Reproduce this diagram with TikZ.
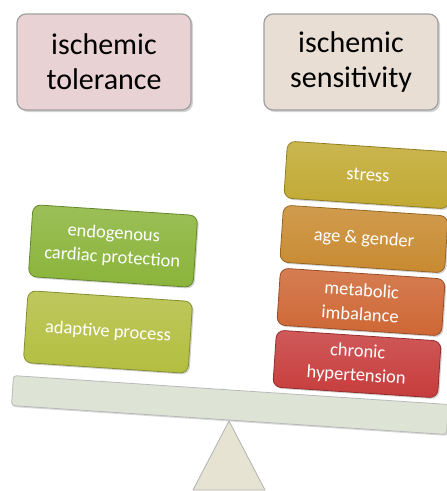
\documentclass[tikz,border=0pt]{standalone}
\usepackage{fontspec}
\setmainfont{Carlito}
\usetikzlibrary{shadows, positioning}

\definecolor{tolcol}{HTML}{E9D2D4}
\definecolor{sencol}{HTML}{E9DED3}
\definecolor{endocol}{HTML}{8AB43A}
\definecolor{adapcol}{HTML}{B3BE40}
\definecolor{strcol}{HTML}{C1A932}
\definecolor{agecol}{HTML}{C88A30}
\definecolor{metacol}{HTML}{CE6734}
\definecolor{chroncol}{HTML}{C73C3C}
\definecolor{beamcol}{HTML}{DDE4D5}
\definecolor{pivotcol}{HTML}{E6E3D3}

\begin{document}
\begin{tikzpicture}[x=1pt, y=-1pt,
        title/.style={rectangle, rounded corners=9pt, draw=gray!75, line width=1.2pt, align=center,
            minimum width=174pt, minimum height=96pt, font=\fontsize{30}{35}\selectfont,
            drop shadow={shadow xshift=2pt, shadow yshift=-2pt, opacity=0.35}},
        factor/.style={rectangle, rounded corners=8pt, draw=#1!75!black, line width=0.8pt, align=center,
            top color=#1!85!white, bottom color=#1, text=white, minimum width=165pt, minimum height=57pt,
            font=\fontsize{18.5}{24}\selectfont, rotate=-3.8,
            drop shadow={shadow xshift=1.5pt, shadow yshift=-1.5pt, opacity=0.35}},
        beam/.style={rectangle, rounded corners=3pt, draw=gray!55, line width=0.8pt, fill=beamcol,
            minimum width=436pt, minimum height=30pt, rotate=-3.8,
            drop shadow={shadow xshift=1pt, shadow yshift=-1.5pt, opacity=0.3}}
    ]
        \useasboundingbox (0,0) rectangle (447,491);

        % Headings
        \node[title, fill=tolcol] (tol) at (104,62) {ischemic\\tolerance};
        \node[title, fill=sencol] (sen) at (351,62) {ischemic\\sensitivity};

        % Fulcrum and beam
        \draw[fill=pivotcol, draw=gray!60, line width=0.8pt, line join=round] (229,421) -- (265,490) -- (193,490) -- cycle;
        \node[beam] (beam) at (230,405) {};

        % Left pan
        \node[factor=adapcol, minimum height=72pt] (adap) at (108,332) {adaptive process};
        \node[factor=endocol, minimum height=72pt] (endo) at (113,246) {endogenous\\cardiac protection};

        % Right pan
        \node[factor=chroncol] (chron) at (357,364) {chronic\\hypertension};
        \node[factor=metacol] (meta) at (361,302) {metabolic\\imbalance};
        \node[factor=agecol] (age) at (364,239) {age \& gender};
        \node[factor=strcol] (stress) at (368,175) {stress};
    \end{tikzpicture}
\end{document}
